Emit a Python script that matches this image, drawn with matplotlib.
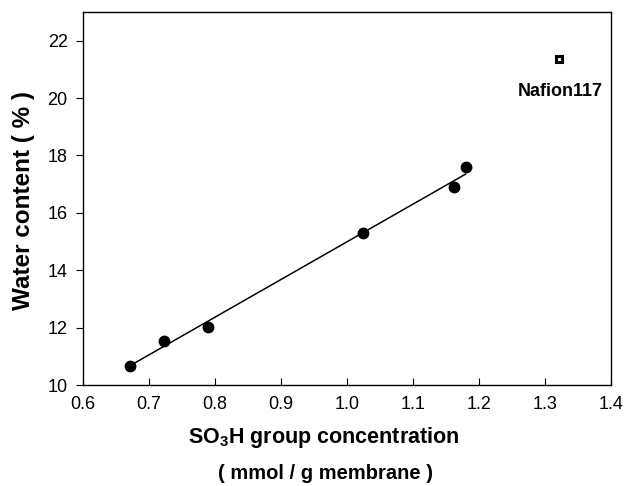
import numpy as np
import matplotlib
matplotlib.use("Agg")
import matplotlib.pyplot as plt

# SO3H concentration (mmol/g) vs water content (%)
so3h = [0.671, 0.723, 0.790, 1.024, 1.163, 1.180]
water = [10.66, 11.54, 12.03, 15.31, 16.90, 17.59]
nafion_x = [1.321]
nafion_y = [21.36]
xticks = [0.6, 0.7, 0.8, 0.9, 1.0, 1.1, 1.2, 1.3, 1.4]
yticks = [10, 12, 14, 16, 18, 20, 22]

plt.rcParams["font.family"] = ["Liberation Sans", "DejaVu Sans"]
plt.rcParams["mathtext.fontset"] = "custom"
plt.rcParams["mathtext.bf"] = "Liberation Sans:bold"
plt.rcParams["mathtext.rm"] = "Liberation Sans"

fig = plt.figure(figsize=(6.25, 4.86), dpi=100)
ax = fig.add_axes([0.1328, 0.2078, 0.8442, 0.7675])

slope, icpt = np.polyfit(so3h, water, 1)
xf = np.array([min(so3h) + 0.008, max(so3h)])
ax.plot(xf, slope * xf + icpt, color="black", lw=1.1)
ax.plot(so3h, water, "o", color="black", ms=7.5)
ax.plot(nafion_x, nafion_y, "s", mfc="white", mec="black", mew=2.2, ms=4.6)
ax.text(nafion_x[0] + 0.003, nafion_y[0] - 0.85, "Nafion117", ha="center", va="top",
        fontsize=13, fontweight="bold")

ax.set_xlim(0.6, 1.4)
ax.set_ylim(10, 23)
ax.set_xticks(xticks)
ax.set_xticklabels([f"{v:.1f}" for v in xticks])
ax.set_yticks(yticks)
ax.tick_params(axis="x", direction="in", length=5, labelsize=13, pad=8)
ax.tick_params(axis="y", direction="out", length=5, labelsize=13, pad=6)
for s in ax.spines.values():
    s.set_linewidth(1.0)

ax.set_ylabel("Water content ( % )", fontsize=17.5, fontweight="bold")
ax.yaxis.set_label_coords(-0.091, 0.495)
fig.text(0.518, 0.100, r"SO$_\mathbf{3}$H group concentration", ha="center", va="center",
         fontsize=15.5, fontweight="bold")
fig.text(0.52, 0.025, "( mmol / g membrane )", ha="center", va="center",
         fontsize=14.5, fontweight="bold")

fig.savefig("out.png", dpi=100)
